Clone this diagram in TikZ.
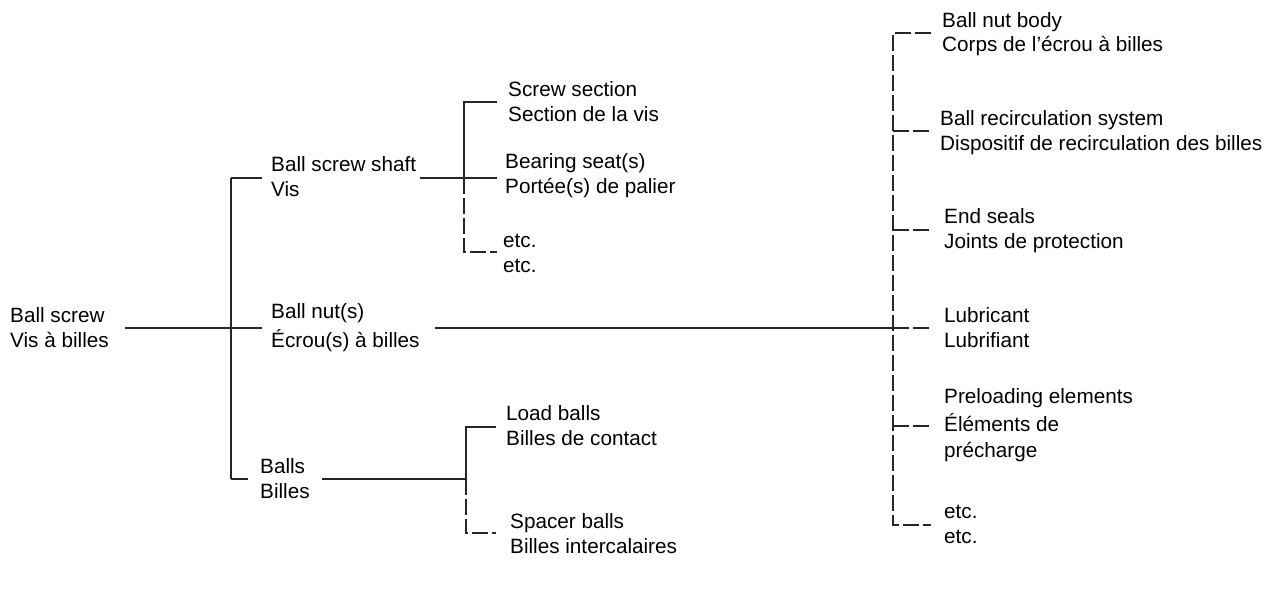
\documentclass[tikz,border=0pt]{standalone}
\usepackage{fontspec}
\setmainfont{Liberation Sans}
\begin{document}
\begin{tikzpicture}[x=1pt,y=-1pt,
  lbl/.style={anchor=base west,inner sep=0pt,align=left,font=\fontsize{20.7}{24.5}\selectfont},
  solidln/.style={line width=1.3pt,black!85},
  dashln/.style={line width=1.3pt,black!85,dash pattern=on 16pt off 4pt}]
\useasboundingbox (0,0) rectangle (1271,594);
% labels (anchored at the baseline of their last line)
\node[lbl] (bs) at (10,347) {Ball screw\\Vis à billes};
\node[lbl] (shaft) at (271,196) {Ball screw shaft\\Vis};
\node[lbl] (nut) at (271,347) {Ball nut(s)\\[4.5pt]Écrou(s) à billes};
\node[lbl] (balls) at (260,498) {Balls\\Billes};
\node[lbl] (ss) at (508,121) {Screw section\\Section de la vis};
\node[lbl] (seat) at (505,193) {Bearing seat(s)\\Portée(s) de palier};
\node[lbl] (etc1) at (503,272) {etc.\\etc.};
\node[lbl] (load) at (506,445) {Load balls\\Billes de contact};
\node[lbl] (spacer) at (510,553) {Spacer balls\\Billes intercalaires};
\node[lbl] (body) at (942,52) {Ball nut body\\Corps de l'écrou à billes};
\node[lbl] (recirc) at (940,150) {Ball recirculation system\\Dispositif de recirculation des billes};
\node[lbl] (seals) at (944,248) {End seals\\Joints de protection};
\node[lbl] (lub) at (944,347) {Lubricant\\Lubrifiant};
\node[lbl] (pre) at (944,457) {Preloading elements\\[4pt]Éléments de\\[1pt]précharge};
\node[lbl] (etc2) at (944,543) {etc.\\etc.};
% junction coordinates
\coordinate (a0) at (125,328);
\coordinate (a1) at (231,328);
\coordinate (a2) at (262,328);
\coordinate (at) at (231,178);
\coordinate (atE) at (262,178);
\coordinate (ab) at (231,479);
\coordinate (abE) at (248,479);
% level 1
\draw[solidln] (a0) -- (a2);
\draw[solidln] (at) -- (ab);
\draw[solidln] (at) -- (atE);
\draw[solidln] (ab) -- (abE);
% shaft branch
\coordinate (s0) at (420,178);
\coordinate (s1) at (464,178);
\coordinate (s2) at (497,178);
\coordinate (st) at (464,102);
\coordinate (stE) at (497,102);
\coordinate (sb) at (464,252);
\coordinate (sbE) at (497,252);
\draw[solidln] (s0) -- (s2);
\draw[solidln] (stE) -- (st) -- (s1);
\draw[dashln] (s1) -- (sb) -- (sbE);
% balls branch
\coordinate (b0) at (322,479);
\coordinate (b1) at (466,479);
\coordinate (bt) at (466,427);
\coordinate (btE) at (496,427);
\coordinate (bb) at (466,533);
\coordinate (bbE) at (496,533);
\draw[solidln] (b0) -- (b1);
\draw[solidln] (btE) -- (bt) -- (b1);
\draw[dashln] (b1) -- (bb) -- (bbE);
% nut branch
\coordinate (n0) at (435,328);
\coordinate (n1) at (893,328);
\coordinate (n2) at (931,328);
\coordinate (nt) at (893,33);
\coordinate (ntE) at (931,33);
\coordinate (nb) at (893,525);
\coordinate (nbE) at (931,525);
\draw[solidln] (n0) -- (n1);
\draw[dashln] (n1) -- (n2);
\draw[dashln] (ntE) -- (nt) -- (nb) -- (nbE);
\foreach \y/\nm in {131/r1,230/r2,426/r3}{
  \coordinate (\nm a) at (893,\y);
  \coordinate (\nm b) at (931,\y);
  \draw[dashln] (\nm a) -- (\nm b);
}
\end{tikzpicture}
\end{document}
